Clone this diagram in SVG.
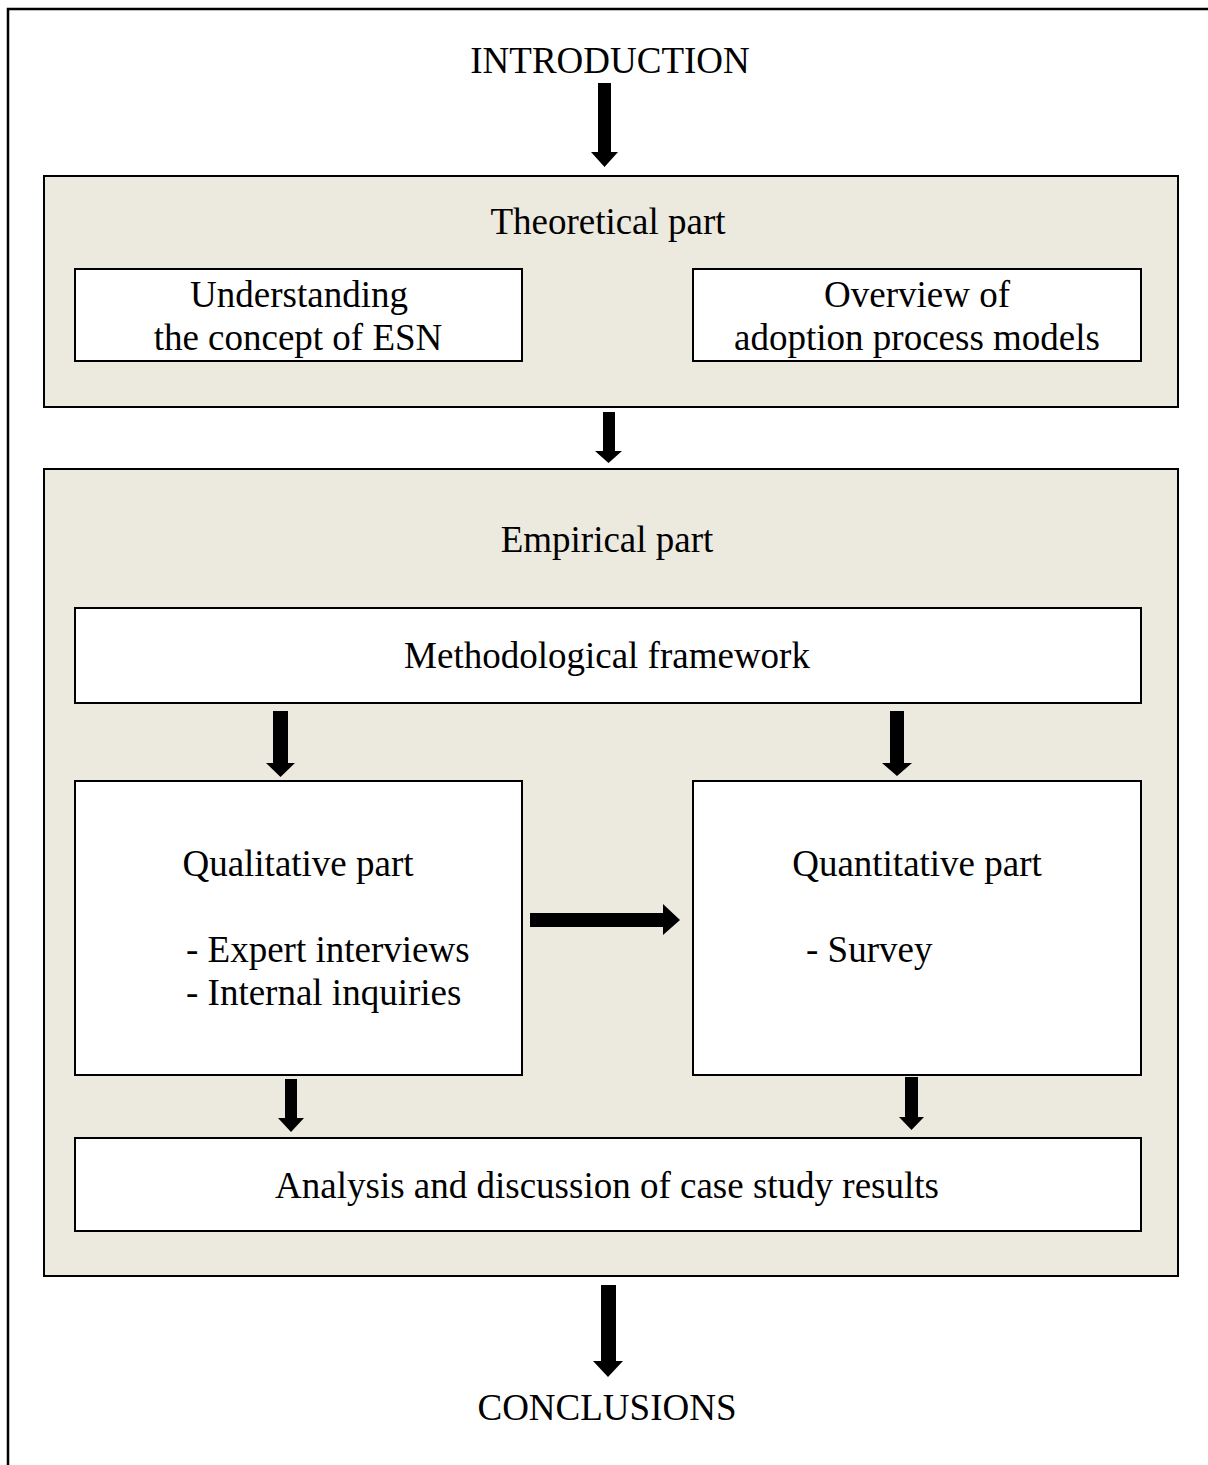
<svg xmlns="http://www.w3.org/2000/svg" width="1208" height="1465" viewBox="0 0 1208 1465">
<style>
.t{font-family:"Liberation Serif","Times New Roman",serif;font-size:37px;fill:#000}
.m{text-anchor:middle}
.outer{fill:#ECE9DF;stroke:#000;stroke-width:2}
.inner{fill:#fff;stroke:#000;stroke-width:2}
.arr{fill:#000}
</style>
<rect x="0" y="0" width="1208" height="1465" fill="#fff"/>
<path d="M8,1465 V9 H1208" fill="none" stroke="#000" stroke-width="2.5"/>
<g id="introduction"><text class="t m" x="610" y="73">INTRODUCTION</text></g>
<g id="theoretical">
<rect class="outer" x="44" y="176" width="1134" height="231"/>
<text class="t m" x="608" y="234">Theoretical part</text>
</g>
<g id="understanding">
<rect class="inner" x="75" y="269" width="447" height="92"/>
<text class="t m" x="299" y="307">Understanding</text>
<text class="t m" x="298" y="350">the concept of ESN</text>
</g>
<g id="overview">
<rect class="inner" x="693" y="269" width="448" height="92"/>
<text class="t m" x="917" y="307">Overview of</text>
<text class="t m" x="917" y="350">adoption process models</text>
</g>
<g id="empirical">
<rect class="outer" x="44" y="469" width="1134" height="807"/>
<text class="t m" x="607" y="552">Empirical part</text>
</g>
<g id="methodological">
<rect class="inner" x="75" y="608" width="1066" height="95"/>
<text class="t m" x="607" y="668">Methodological framework</text>
</g>
<g id="qualitative">
<rect class="inner" x="75" y="781" width="447" height="294"/>
<text class="t m" x="298" y="876">Qualitative part</text>
<text class="t" x="186" y="962">- Expert interviews</text>
<text class="t" x="186" y="1005">- Internal inquiries</text>
</g>
<g id="quantitative">
<rect class="inner" x="693" y="781" width="448" height="294"/>
<text class="t m" x="917" y="876">Quantitative part</text>
<text class="t" x="806" y="962">- Survey</text>
</g>
<g id="analysis">
<rect class="inner" x="75" y="1138" width="1066" height="93"/>
<text class="t m" x="607" y="1198">Analysis and discussion of case study results</text>
</g>
<g id="conclusions"><text class="t m" x="607" y="1420">CONCLUSIONS</text></g>
<g id="connectors">
<polygon class="arr" points="598,83 611,83 611,152 618,152 604.5,167 591,152 598,152"/>
<polygon class="arr" points="603,412 615,412 615,451 622,451 608.5,463 595,451 603,451"/>
<polygon class="arr" points="273,711 288,711 288,763 295,763 280.5,777 266,763 273,763"/>
<polygon class="arr" points="890,711 904,711 904,763 912,763 897,776 882,763 890,763"/>
<polygon class="arr" points="530,913 663,913 663,904 680,920 663,935 663,927 530,927"/>
<polygon class="arr" points="285,1079 297,1079 297,1118 304,1118 291,1132 278,1118 285,1118"/>
<polygon class="arr" points="905,1077 918,1077 918,1117 924,1117 911.5,1130 899,1117 905,1117"/>
<polygon class="arr" points="601,1285 616,1285 616,1361 623,1361 608,1377 593,1361 601,1361"/>
</g>
</svg>
